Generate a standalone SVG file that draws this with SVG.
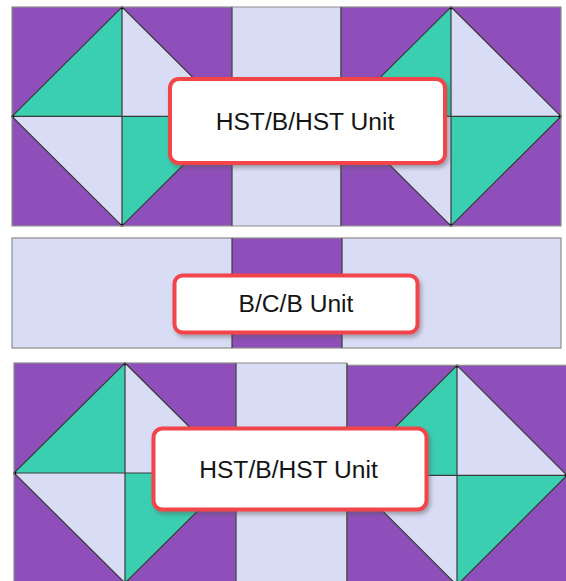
<svg xmlns="http://www.w3.org/2000/svg" xmlns:xlink="http://www.w3.org/1999/xlink" width="566" height="581" viewBox="0 0 566 581">
  <style>
    .pu { fill: #8f4fba; }
    .te { fill: #3bcfb1; }
    .lv { fill: #d9dcf5; }
    .ln { fill: none; stroke: #3a3a3a; stroke-width: 1.2; }
    .ob { fill: none; stroke: #8c8c8c; stroke-width: 1.2; }
    .dot { fill: #111; }
    .box { fill: #ffffff; stroke: #f2454a; stroke-width: 4; filter: url(#sh); }
    .lbl { font-family: "Liberation Sans", Arial, sans-serif; font-size: 24.6px; fill: #141414; text-anchor: middle; }
  </style>
  <defs>
    <filter id="sh" x="-10%" y="-20%" width="125%" height="150%">
      <feDropShadow dx="2" dy="3" stdDeviation="2" flood-color="#555" flood-opacity="0.45"/>
    </filter>
    <g id="hst">
      <rect class="pu" x="0" y="0" width="220" height="220"/>
      <path class="te" d="M110,0 L0,110 L110,110 Z"/>
      <path class="lv" d="M110,0 L110,110 L220,110 Z"/>
      <path class="lv" d="M0,110 L110,110 L110,220 Z"/>
      <path class="te" d="M110,110 L220,110 L110,220 Z"/>
      <path class="ln" d="M110,0 L220,110 L110,220 L0,110 Z M0,110 H220 M110,0 V220"/>
      <circle class="dot" cx="110" cy="0.8" r="1.6"/>
      <circle class="dot" cx="0.8" cy="110" r="1.6"/>
      <circle class="dot" cx="219.2" cy="110" r="1.6"/>
      <circle class="dot" cx="110" cy="219.2" r="1.6"/>
      <rect class="ob" x="0" y="0" width="220" height="220"/>
    </g>
  </defs>

  <g id="row-top">
    <use xlink:href="#hst" href="#hst" transform="translate(12,7) scale(1,0.995)"/>
    <rect class="lv" x="232" y="7" width="109" height="219"/>
    <use xlink:href="#hst" href="#hst" transform="translate(341,7) scale(1,0.995)"/>
    <path class="ln" d="M232,7 V226 M341,7 V226"/>
    <path class="ob" d="M232,7 H341 M232,226 H341"/>
  </g>

  <g id="row-middle">
    <rect class="lv" x="12" y="238" width="549" height="110"/>
    <rect class="pu" x="232" y="238" width="110" height="110"/>
    <rect class="ob" x="12" y="238" width="549" height="110"/>
    <path class="ln" d="M232,238 V348 M342,238 V348"/>
  </g>

  <g id="row-bottom">
    <use xlink:href="#hst" href="#hst" transform="translate(14,363) scale(1.009,1)"/>
    <rect class="lv" x="236" y="363" width="111" height="222"/>
    <use xlink:href="#hst" href="#hst" transform="translate(347,365.3)"/>
    <path class="ln" d="M236,363 V585 M347,363 V585"/>
    <path class="ob" d="M236,363 H347"/>
  </g>

  <g id="label-top">
    <rect class="box" x="170" y="79" width="275" height="84" rx="9"/>
    <text class="lbl" x="305" y="130">HST/B/HST Unit</text>
  </g>

  <g id="label-middle">
    <rect class="box" x="174.5" y="275.5" width="243" height="57" rx="8"/>
    <text class="lbl" x="296" y="312">B/C/B Unit</text>
  </g>

  <g id="label-bottom">
    <rect class="box" x="153.5" y="428.5" width="273" height="81" rx="9"/>
    <text class="lbl" x="288.5" y="478">HST/B/HST Unit</text>
  </g>

  <g id="connectors"/>
</svg>
